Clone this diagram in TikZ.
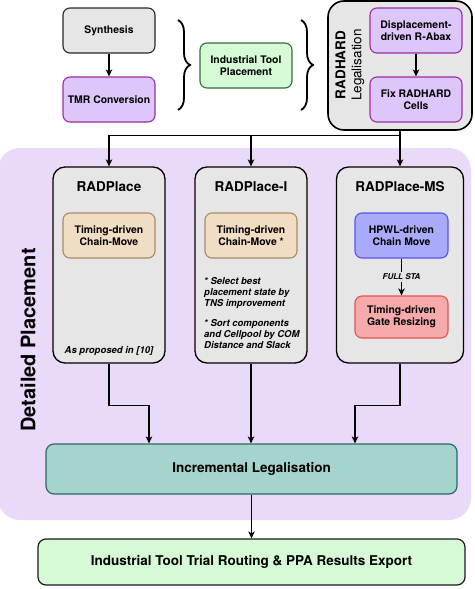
\documentclass[tikz,border=0pt]{standalone}
\usepackage{fontspec}
\setmainfont{TeX Gyre Heros}
\usetikzlibrary{arrows.meta,positioning,decorations.pathreplacing,calc}

\definecolor{grayfill}{HTML}{E6E6E6}
\definecolor{bgpurple}{HTML}{E9DAF9}
\definecolor{purplefill}{HTML}{DCC6FA}
\definecolor{purpleline}{HTML}{9C2CA8}
\definecolor{greenfill}{HTML}{D6FAD6}
\definecolor{greenline}{HTML}{2F6F3A}
\definecolor{tanfill}{HTML}{F1DCC4}
\definecolor{tanline}{HTML}{A88A6A}
\definecolor{bluefill}{HTML}{AAAAFA}
\definecolor{blueline}{HTML}{5555E8}
\definecolor{redfill}{HTML}{F7AAAA}
\definecolor{redline}{HTML}{E05555}
\definecolor{tealfill}{HTML}{A4D4CB}
\definecolor{tealline}{HTML}{2C6A66}

\begin{document}
\begin{tikzpicture}[
        x=1pt, y=-1pt,
        small/.style={draw, rounded corners=7pt, align=center, minimum width=92pt, minimum height=45pt, inner sep=2pt, line width=1.1pt, font=\fontsize{10.4}{12.5}\selectfont\bfseries},
        graybox/.style={small, fill=grayfill, draw=black!85},
        purplebox/.style={small, fill=purplefill, draw=purpleline},
        greenbox/.style={small, fill=greenfill, draw=greenline},
        tanbox/.style={small, fill=tanfill, draw=tanline},
        bluebox/.style={small, fill=bluefill, draw=blueline, minimum width=93pt},
        redbox/.style={small, fill=redfill, draw=redline, minimum width=93pt, minimum height=42pt},
        stage/.style={draw, rounded corners=12pt, fill=grayfill, minimum width=112pt, minimum height=196pt, line width=1.3pt},
        wide/.style={draw, rounded corners=8pt, align=center, line width=1.2pt, font=\fontsize{13.5}{16}\selectfont\bfseries},
        title/.style={font=\fontsize{13.5}{16}\selectfont\bfseries},
        note/.style={align=left, inner sep=0pt, font=\fontsize{9.5}{11}\selectfont\bfseries\itshape},
        arrow/.style={-{Stealth[length=7pt,width=6.5pt,inset=2pt]}, line width=1.3pt},
        bracket/.style={decorate, decoration={brace, amplitude=12pt}, line width=1.8pt}
    ]

    \useasboundingbox (0,0) rectangle (474,589);

    % Background
    \fill[bgpurple, rounded corners=22pt] (-2,148) rectangle (471,520);
    \node[rotate=90, font=\fontsize{20}{24}\selectfont\bfseries] (dplabel) at (28,340) {Detailed Placement};

    % Top flow
    \node[graybox] (synth) at (109,30.5) {Synthesis};
    \node[purplebox] (tmr) at (109,99.5) {TMR Conversion};
    \node[greenbox] (itp) at (246,65.5) {Industrial Tool\\Placement};
    \draw[bracket] (178,20) -- (178,110);
    \draw[bracket] (301,20) -- (301,110);

    \node[draw, fill=grayfill, rounded corners=16pt, line width=1.6pt, minimum width=144pt, minimum height=129pt] (radhard) at (400,65.5) {};
    \node[rotate=90, align=center, font=\fontsize{13.5}{16}\selectfont] (rhlabel) at (350,65) {\textbf{RADHARD}\\Legalisation};
    \node[purplebox] (rabax) at (416,30.5) {Displacement-\\driven R-Abax};
    \node[purplebox] (fixrh) at (416,99.5) {Fix RADHARD\\Cells};

    % Placement stages
    \node[stage] (radplace) at (109,265) {};
    \node[stage] (radplacei) at (251,265) {};
    \node[stage, minimum width=127pt] (radplacems) at (400,265) {};

    \node[title] (t1) at (109,187) {RADPlace};
    \node[title] (t2) at (251,187) {RADPlace-I};
    \node[title] (t3) at (400,187) {RADPlace-MS};

    \node[tanbox] (chain1) at (109,235.5) {Timing-driven\\Chain-Move};
    \node[tanbox] (chain2) at (251,235.5) {Timing-driven\\Chain-Move *};
    \node[bluebox] (hpwl) at (401.5,235.5) {HPWL-driven\\Chain Move};
    \node[redbox] (gate) at (401.5,317) {Timing-driven\\Gate Resizing};

    \node[note, anchor=base] (ref1) at (109,353) {As proposed in [10]};
    \node[note, anchor=north west] (note1) at (204,277) {* Select best\\placement state by\\TNS improvement\\[9pt]* Sort components\\and Cellpool by COM\\Distance and Slack};

    % Bottom flow
    \node[wide, fill=tealfill, draw=tealline, minimum width=411pt, minimum height=50pt] (incr) at (251.5,469) {Incremental Legalisation};
    \node[wide, fill=greenfill, draw=black!90, minimum width=427pt, minimum height=46pt] (export) at (251.5,562) {Industrial Tool Trial Routing \& PPA Results Export};

    % Edges
    \draw[arrow] (synth) -- (tmr);
    \draw[arrow] (rabax) -- (fixrh);
    \draw[line width=1.3pt] (radhard.south) -- ++(0,5) coordinate (split);
    \draw[arrow] (split) -| (radplace.north);
    \draw[arrow] (split -| radplacei.north) -- (radplacei.north);
    \draw[arrow] (split) -- (radplacems.north);

    \draw[arrow] (hpwl) -- node[fill=grayfill, inner sep=1.5pt, font=\fontsize{8}{9}\selectfont\bfseries\itshape] (sta) {FULL STA} (gate);

    \draw[arrow] (radplace.south) -- ++(0,42) -| ([xshift=-102.5pt]incr.north);
    \draw[arrow] (radplacei.south) -- (radplacei.south |- incr.north);
    \draw[arrow] (radplacems.south) -- ++(0,42) -| ([xshift=103.5pt]incr.north);
    \draw[arrow] (incr) -- (export);

\end{tikzpicture}
\end{document}
